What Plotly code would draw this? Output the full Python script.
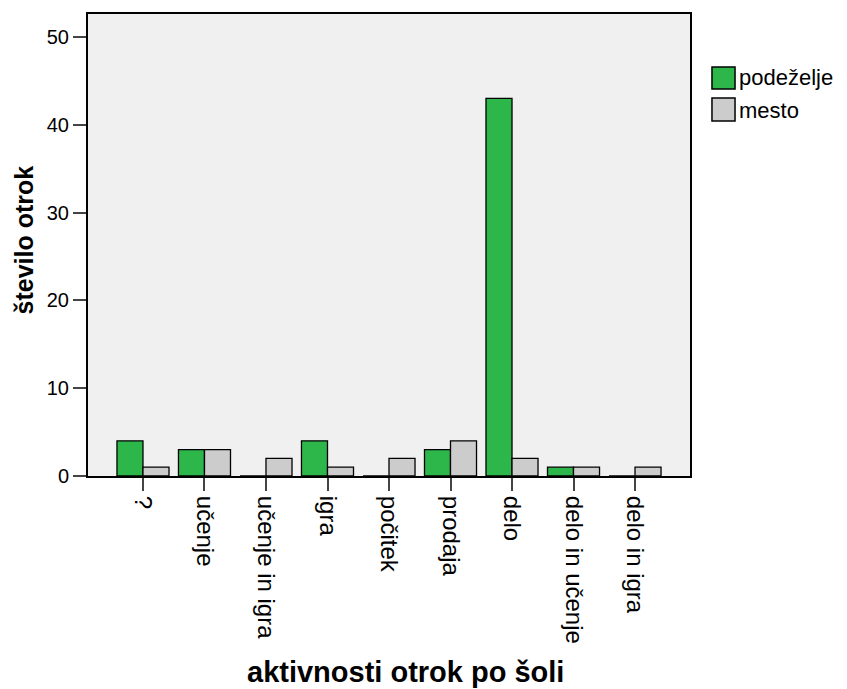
import plotly.graph_objects as go

kategorije = ["?", "učenje", "učenje in igra", "igra", "počitek", "prodaja",
              "delo", "delo in učenje", "delo in igra"]
podezelje = [4, 3, 0, 4, 0, 3, 43, 1, 0]
mesto = [1, 3, 2, 1, 2, 4, 2, 1, 1]
y_ticks = [0, 10, 20, 30, 40, 50]

zelena = "#2db64a"
siva = "#cccccc"
pisava = "Liberation Sans, Arial"

fig = go.Figure()
fig.add_trace(go.Bar(x=kategorije, y=podezelje, name="podeželje",
                     marker=dict(color=zelena, line=dict(color="black", width=1.3))))
fig.add_trace(go.Bar(x=kategorije, y=mesto, name="mesto",
                     marker=dict(color=siva, line=dict(color="black", width=1.3))))

# page body has an 8px margin, so the figure is a bit smaller and margins shifted
fig.update_layout(
    width=839, height=681,
    barmode="group", bargap=0.154, bargroupgap=0,
    plot_bgcolor="#f0f0f0", paper_bgcolor="white",
    font=dict(family=pisava, size=22, color="black"),
    margin=dict(l=80, r=157, t=6, b=213),
    showlegend=False,
)
fig.update_xaxes(
    range=[-0.894, 8.894], tickangle=90, ticks="outside", ticklen=13, tickwidth=2,
    showline=True, linecolor="black", linewidth=2, mirror=True, automargin=False,
    tickfont=dict(size=24),
)
fig.update_yaxes(
    range=[0, 52.6], tickvals=y_ticks, ticks="outside", ticklen=13, tickwidth=2,
    showline=True, linecolor="black", linewidth=2, mirror=True, showgrid=False,
    zeroline=False, automargin=False, ticklabelstandoff=0,
    tickfont=dict(size=20),
)

# axis titles
fig.add_annotation(text="<b>aktivnosti otrok po šoli</b>", xref="paper", yref="paper",
                   x=0.527, y=-0.424, xanchor="center", yanchor="middle",
                   showarrow=False, font=dict(size=29))
fig.add_annotation(text="<b>število otrok</b>", xref="paper", yref="paper",
                   x=-0.107, y=0.511, xanchor="center", yanchor="middle",
                   showarrow=False, textangle=-90, font=dict(size=25), borderpad=0)

# legend
for ime, barva, y0, y1, yt in [("podeželje", zelena, 0.8853, 0.8377, 0.8615),
                               ("mesto", siva, 0.8182, 0.7684, 0.7922)]:
    fig.add_shape(type="rect", xref="paper", yref="paper", x0=1.0365, x1=1.0748,
                  y0=y1, y1=y0, fillcolor=barva, line=dict(color="black", width=1.5))
    fig.add_annotation(text=ime, xref="paper", yref="paper", x=1.079, y=yt,
                       xanchor="left", yanchor="middle", showarrow=False,
                       font=dict(size=22), borderpad=0)

fig.write_html("out.html")
